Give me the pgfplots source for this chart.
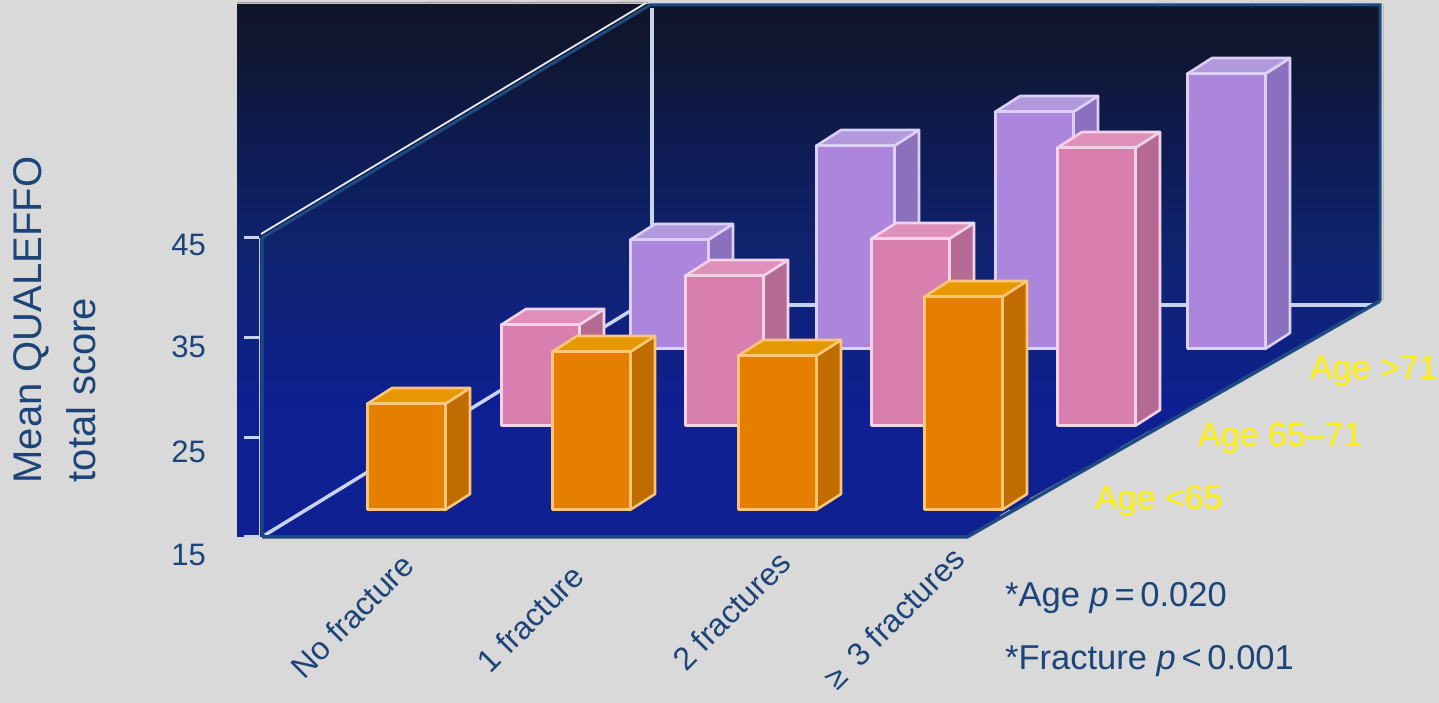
\documentclass[border=0pt]{standalone}
\usepackage{pgfplots}
\usepackage{fontspec}
\setmainfont{Liberation Sans}
\pgfplotsset{compat=1.18}

\definecolor{pagegray}{HTML}{D9D9D9}
\definecolor{inkblue}{HTML}{1C4478}
\definecolor{frameblue}{HTML}{1E4A80}
\definecolor{gridlight}{HTML}{C8D4EC}
\definecolor{orF}{HTML}{E67E00}
\definecolor{orT}{HTML}{E69800}
\definecolor{orS}{HTML}{C06C00}
\definecolor{orE}{HTML}{FBC676}
\definecolor{piF}{HTML}{D97FB0}
\definecolor{piT}{HTML}{DE8FBA}
\definecolor{piS}{HTML}{B56A93}
\definecolor{piE}{HTML}{F3D3E8}
\definecolor{puF}{HTML}{AB86DC}
\definecolor{puT}{HTML}{B298DC}
\definecolor{puS}{HTML}{8B70BE}
\definecolor{puE}{HTML}{DCD0F4}
\definecolor{wallA}{HTML}{0E2092}
\definecolor{wallB}{HTML}{0F2473}
\definecolor{wallC}{HTML}{0E1C55}
\definecolor{wallD}{HTML}{0F1630}
\definecolor{wallE}{HTML}{10152A}

% the part of a vertical shading that a path shows runs from 25bp to 75bp
\pgfdeclareverticalshading{wallshade}{100bp}{
  color(0bp)=(wallA);
  color(37bp)=(wallA);
  color(50bp)=(wallB);
  color(61bp)=(wallC);
  color(71bp)=(wallD);
  color(75bp)=(wallE);
  color(100bp)=(wallE)}

% One box: left edge, score, floor height of its row, then face and edge colours.
\newcommand{\barbox}[7]{%
  \pgfmathsetmacro\xL{#1}%
  \pgfmathsetmacro\xR{#1+78}%
  \pgfmathsetmacro\xLb{#1+25}%
  \pgfmathsetmacro\xRb{#1+78+25}%
  \pgfmathsetmacro\yB{#3}%
  \pgfmathsetmacro\yBb{#3+1.6}%
  \pgfmathsetmacro\yT{#3+#2-15}%
  \pgfmathsetmacro\yTb{#3+#2-15+1.6}%
  \addplot[fill=#6,draw=#7,line width=2.6pt,line join=round]
    coordinates {(\xR,\yB) (\xR,\yT) (\xRb,\yTb) (\xRb,\yBb)} -- cycle;
  \addplot[fill=#5,draw=#7,line width=2.6pt,line join=round]
    coordinates {(\xL,\yT) (\xR,\yT) (\xRb,\yTb) (\xLb,\yTb)} -- cycle;
  \addplot[fill=#4,draw=#7,line width=3pt,line join=round]
    coordinates {(\xL,\yB) (\xR,\yB) (\xR,\yT) (\xL,\yT)} -- cycle;
}
\newcommand{\youngbar}[2]{\barbox{#1}{#2}{17.7}{orF}{orT}{orS}{orE}}
\newcommand{\middlebar}[2]{\barbox{#1}{#2}{26.1}{piF}{piT}{piS}{piE}}
\newcommand{\olderbar}[2]{\barbox{#1}{#2}{33.8}{puF}{puT}{puS}{puE}}

\begin{document}
\begin{tikzpicture}
\begin{axis}[
  width=1439pt, height=703pt, scale only axis,
  xmin=0, xmax=1439, ymin=-1.6, ymax=68.7,
  hide axis, clip=false,
  every axis plot/.append style={forget plot},
]
% page and wall
\path[fill=pagegray] (0,-1.6) rectangle (1439,68.7);
\path[shading=wallshade] (237,68.3) -- (1380,68.3) -- (1380,38.5) -- (967,15) -- (237,15) -- cycle;
\draw[gray!75,line width=1pt] (237,68.4) -- (648,68.4);
\draw[gray!55,line width=1pt] (1383,68.3) -- (1383,38.6);
\draw[gray!30,line width=1pt] (1386,68.3) -- (1386,38.6);
\draw[gray!40,line width=1pt] (428,68.5) -- (514,68.5) (534,68.5) -- (599,68.5) (620,68.5) -- (645,68.5)
  (1155,68.5) -- (1175,68.5) (1250,68.5) -- (1305,68.5) (1350,68.5) -- (1372,68.5);

% floor and back-wall rules
\draw[gridlight,line width=3.5pt] (652,67.9) -- (652,46);
\draw[gridlight,line width=3.5pt] (265,15.2) -- (640,38.2);
\draw[gridlight,line width=3.5pt] (640,38.2) -- (1378,38.2);

% score ticks
\draw[gridlight,line width=3pt] (244,44.9) -- (259,44.9) (244,34.9) -- (259,34.9)
  (244,24.9) -- (259,24.9) (244,15) -- (259,15);

% frame
\draw[gridlight,line width=1.5pt] (259.5,15) -- (259.5,44.9);
\draw[white!85!gray,line width=1.8pt] (261,45.3) -- (646,68.4);
\draw[frameblue,line width=3pt,line join=miter]
  (262,15) -- (262,44.9) -- (650,68.2) -- (1380,68.2) -- (1380,38.6);
\draw[gray!45,line width=1.2pt] (1000,17.1) -- (1010,17.7) (1030,18.8) -- (1075,21.3)
  (1120,23.9) -- (1150,25.6) (1240,30.7) -- (1300,34.1);
\draw[frameblue,line width=3.5pt] (262,15) -- (967,15) -- (1380,38.6);

% bars, back row first
\olderbar{630}{25.9}
\olderbar{816}{35.3}
\olderbar{995}{38.7}
\olderbar{1187}{42.5}

\middlebar{501}{25.1}
\middlebar{685}{30.0}
\middlebar{871}{33.7}
\middlebar{1057}{42.8}

\youngbar{367}{25.6}
\youngbar{552}{30.8}
\youngbar{738}{30.4}
\youngbar{924}{36.3}

% labels
\node[rotate=90,text=inkblue,font=\fontsize{40}{44}\selectfont] at (31,36.7) {Mean QUALEFFO};
\node[rotate=90,text=inkblue,font=\fontsize{40}{44}\selectfont] at (81,29.7) {total score};

\node[anchor=east,inner sep=0pt,text=inkblue,font=\fontsize{31}{36}\selectfont] at (206,44.2) {45};
\node[anchor=east,inner sep=0pt,text=inkblue,font=\fontsize{31}{36}\selectfont] at (206,34.0) {35};
\node[anchor=east,inner sep=0pt,text=inkblue,font=\fontsize{31}{36}\selectfont] at (206,23.5) {25};
\node[anchor=east,inner sep=0pt,text=inkblue,font=\fontsize{31}{36}\selectfont] at (206,13.2) {15};

\node[rotate=45,anchor=east,inner sep=0pt,text=inkblue,font=\fontsize{32}{36}\selectfont] at (408,12.7) {No fracture};
\node[rotate=45,anchor=east,inner sep=0pt,text=inkblue,font=\fontsize{32}{36}\selectfont] at (578,11.6) {1 fracture};
\node[rotate=45,anchor=east,inner sep=0pt,text=inkblue,font=\fontsize{32}{36}\selectfont] at (785,13.0) {2 fractures};
\node[rotate=45,anchor=east,inner sep=0pt,text=inkblue,font=\fontsize{32}{36}\selectfont] at (959,13.4) {≥\hspace{6pt} 3 fractures};

\node[anchor=west,inner sep=0pt,text=yellow,font=\fontsize{34}{36}\selectfont] at (1095,18.6) {Age <65};
\node[anchor=west,inner sep=0pt,text=yellow,font=\fontsize{34}{36}\selectfont] at (1198,24.9) {Age 65–71};
\node[anchor=west,inner sep=0pt,text=yellow,font=\fontsize{34}{36}\selectfont] at (1310,31.6) {Age >71};

\node[anchor=west,inner sep=0pt,text=inkblue,font=\fontsize{34.5}{36}\selectfont] at (1005,8.9) {*Age \textit{p}\,=\,0.020};
\node[anchor=west,inner sep=0pt,text=inkblue,font=\fontsize{34.5}{36}\selectfont] at (1005,2.6) {*Fracture \textit{p}\,<\,0.001};
\end{axis}
\end{tikzpicture}
\end{document}
